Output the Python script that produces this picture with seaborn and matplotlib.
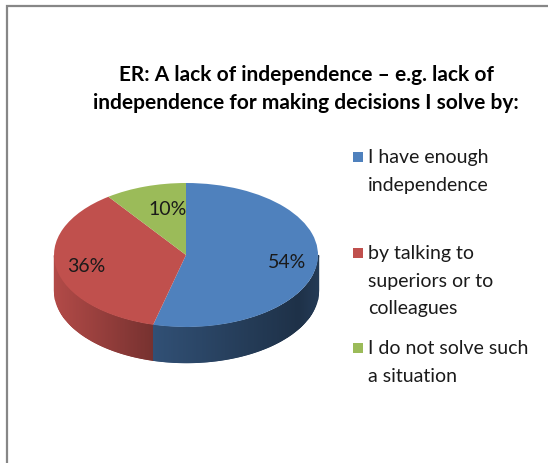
import numpy as np
import matplotlib
matplotlib.use("Agg")
import matplotlib.pyplot as plt
import seaborn as sns
from matplotlib.colors import to_rgb
from matplotlib.patches import Rectangle

sns.set_theme(style="white")
plt.rcParams["font.family"] = ["Lato", "DejaVu Sans"]

# ---- data ----
categories = ["I have enough\nindependence",
              "by talking to\nsuperiors or to\ncolleagues",
              "I do not solve such\na situation"]
values = [54, 36, 10]
pct_labels = ["54%", "36%", "10%"]
colors = ["#4F81BD", "#C0504D", "#9BBB59"]
title_lines = ["ER: A lack of independence \u2013 e.g. lack of",
               "independence for making decisions I solve by:"]

W, H = 548, 464
fig = plt.figure(figsize=(W / 100, H / 100), dpi=100)
fig.patch.set_facecolor("white")

# pie geometry (pixels)
cx, cy, rx, ry, depth = 186, 256, 132, 72, 35
D = depth / ry
left_px, right_px = cx - 1.2 * rx, cx + 1.2 * rx
top_px, bot_px = cy - 1.2 * ry, cy + (1.2 + D) * ry
ax = fig.add_axes([left_px / W, 1 - bot_px / H,
                   (right_px - left_px) / W, (bot_px - top_px) / H])

# ---- side wall (3D depth) ----
fr = np.array(values, dtype=float) / sum(values)
cum = np.concatenate([[0], np.cumsum(fr)])
bound_angles = 90 - 360 * cum
xs = list(np.linspace(-1, 1, 241))
for b in bound_angles:
    bb = (b + 180) % 360 - 180
    if -180 < bb < 0:
        xs.append(np.cos(np.radians(bb)))
xs = np.unique(np.array(xs))


def shade(x):
    return np.interp(x, [-1, -0.25, 0.85, 1.0], [0.93, 0.62, 0.38, 0.45])


for x0, x1 in zip(xs[:-1], xs[1:]):
    xm = 0.5 * (x0 + x1)
    t = -np.degrees(np.arccos(np.clip(xm, -1, 1)))
    pos = ((90 - t) % 360) / 360
    idx = min(int(np.searchsorted(cum, pos, side="right") - 1), len(values) - 1)
    c = np.clip(np.array(to_rgb(colors[idx])) * shade(xm), 0, 1)
    xseg = np.linspace(x0, x1, 4)
    ytop = -np.sqrt(np.clip(1 - xseg ** 2, 0, None))
    ax.fill_between(xseg, ytop - D, ytop, facecolor=c, edgecolor=c,
                    lw=1.0, zorder=1)

# ---- top face ----
wedges, _ = ax.pie(values, colors=colors, startangle=90, counterclock=False,
                   radius=1, wedgeprops=dict(linewidth=0, zorder=3))

pct_dist = [0.77, 0.77, 0.66]
label_angle_shift = [0, 0, -6]
for i, w in enumerate(wedges):
    ang = np.radians(0.5 * (w.theta1 + w.theta2) + label_angle_shift[i])
    ax.text(pct_dist[i] * np.cos(ang), pct_dist[i] * np.sin(ang), pct_labels[i],
            ha="center", va="center", fontsize=14, color="#1a1a1a", zorder=5)

ax.set_aspect("auto")
ax.set_xlim(-1.2, 1.2)
ax.set_ylim(-1.2 - D, 1.2)
ax.axis("off")

# ---- title ----
for k, line in enumerate(title_lines):
    fig.text(306 / W, 1 - (75 + 28 * k) / H, line, ha="center", va="center",
             fontsize=15, fontweight="bold", color="#000000")

# ---- legend ----
entry_y = [158, 254, 349]
line_step = 27.5
for lab, col, y0 in zip(categories, colors, entry_y):
    fig.add_artist(Rectangle((353 / W, 1 - (y0 + 5) / H), 10 / W, 10 / H,
                             transform=fig.transFigure, facecolor=col,
                             edgecolor="none"))
    for j, part in enumerate(lab.split("\n")):
        fig.text(368 / W, 1 - (y0 + j * line_step) / H, part, ha="left",
                 va="center", fontsize=14, color="#1a1a1a")

# ---- outer border ----
fig.add_artist(Rectangle((6.5 / W, -0.1), 1.2, 1 - 6.5 / H + 0.1,
                         transform=fig.transFigure, fill=False,
                         edgecolor="#878787", lw=1.6))

fig.savefig("out.png", dpi=100, facecolor="white")
